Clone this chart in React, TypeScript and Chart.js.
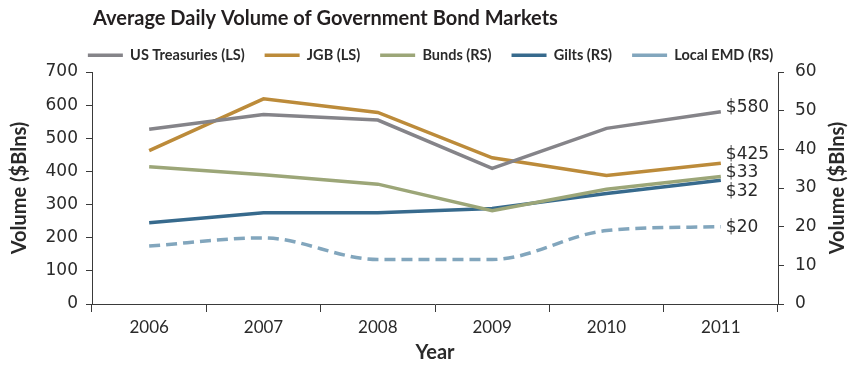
import React, { useEffect, useRef } from "react";
import { Chart, registerables } from "chart.js";

Chart.register(...registerables);

const years = ["2006", "2007", "2008", "2009", "2010", "2011"];
const usTreasuries = [527, 572, 555, 409, 530, 580];
const jgb = [463, 619, 578, 441, 388, 425];
const bunds = [35.5, 33.4, 31.0, 24.1, 29.7, 33];
const gilts = [21.0, 23.6, 23.6, 24.7, 28.6, 32];
const localEmd = [15.0, 17.1, 11.5, 11.5, 19.0, 20];

const titleText = "Average Daily Volume of Government Bond Markets";
const yTitleText = "Volume ($Blns)";
const xTitleText = "Year";

const W = 861;
const H = 365;
const TEXT = "#2a2a2a";
const AXIS = "#3a3a3a";
const tickFont = { family: "'DejaVu Sans', sans-serif", size: 17 };
const axisTitleFont = { family: "Lato, sans-serif", size: 20, weight: "bold" };

export default function App() {
  const ref = useRef<HTMLCanvasElement | null>(null);

  useEffect(() => {
    document.body.style.margin = "0";
    const canvas = ref.current;
    if (!canvas) return;

    const overlay = {
      id: "overlay",
      afterDraw(chart: any) {
        const ctx = chart.ctx;
        const area = chart.chartArea;
        ctx.save();
        // Title
        ctx.fillStyle = "#231f20";
        ctx.font = "bold 20px Lato, sans-serif";
        ctx.textAlign = "left";
        ctx.textBaseline = "alphabetic";
        ctx.fillText(titleText, 93, 25);
        // Right axis title (reads bottom to top)
        ctx.save();
        ctx.translate(838, (area.top + area.bottom) / 2);
        ctx.rotate(-Math.PI / 2);
        ctx.textAlign = "center";
        ctx.textBaseline = "middle";
        ctx.fillStyle = TEXT;
        ctx.font = "bold 20px Lato, sans-serif";
        ctx.fillText(yTitleText, 0, 0);
        ctx.restore();
        // End labels
        ctx.font = "17px 'DejaVu Sans', sans-serif";
        ctx.fillStyle = TEXT;
        ctx.textAlign = "left";
        ctx.textBaseline = "middle";
        chart.data.datasets.forEach((ds: any, i: number) => {
          const meta = chart.getDatasetMeta(i);
          const pt = meta.data[meta.data.length - 1];
          if (!pt) return;
          const v = ds.data[ds.data.length - 1];
          ctx.fillText("$" + v, pt.x + 5, pt.y + (ds.labelOffset || 0));
        });
        ctx.restore();
      },
    };

    const chart = new Chart(canvas, {
      type: "line",
      data: {
        labels: years,
        datasets: [
          {
            label: "US Treasuries (LS)",
            data: usTreasuries,
            yAxisID: "yL",
            borderColor: "#858489",
            backgroundColor: "#858489",
            borderWidth: 3.5,
            pointRadius: 0,
            labelOffset: -4,
          } as any,
          {
            label: "JGB (LS)",
            data: jgb,
            yAxisID: "yL",
            borderColor: "#BC8B3A",
            backgroundColor: "#BC8B3A",
            borderWidth: 3.5,
            pointRadius: 0,
            labelOffset: -9,
          } as any,
          {
            label: "Bunds (RS)",
            data: bunds,
            yAxisID: "yR",
            borderColor: "#9CA678",
            backgroundColor: "#9CA678",
            borderWidth: 3.5,
            pointRadius: 0,
            labelOffset: -4,
          } as any,
          {
            label: "Gilts (RS)",
            data: gilts,
            yAxisID: "yR",
            borderColor: "#376A8D",
            backgroundColor: "#376A8D",
            borderWidth: 3.5,
            pointRadius: 0,
            labelOffset: 11,
          } as any,
          {
            label: "Local EMD (RS)",
            data: localEmd,
            yAxisID: "yR",
            borderColor: "#82A6BD",
            backgroundColor: "#82A6BD",
            borderWidth: 3.5,
            borderDash: [11, 6],
            cubicInterpolationMode: "monotone",
            pointRadius: 0,
            labelOffset: 1,
          } as any,
        ],
      },
      options: {
        responsive: false,
        animation: false,
        devicePixelRatio: 1,
        layout: { padding: { top: 28, left: 0, right: 0, bottom: 0 } },
        plugins: {
          title: { display: false },
          tooltip: { enabled: false },
          legend: {
            display: true,
            position: "top",
            maxHeight: 44,
            labels: {
              usePointStyle: true,
              pointStyle: "line",
              pointStyleWidth: 35,
              boxHeight: 14,
              padding: 20,
              color: TEXT,
              font: { family: "Lato, sans-serif", size: 14.5, weight: "bold" },
            },
          } as any,
        },
        scales: {
          x: {
            type: "category",
            offset: true,
            grid: {
              display: true,
              offset: true,
              drawOnChartArea: false,
              drawTicks: true,
              tickLength: 8,
              color: AXIS,
            },
            border: { display: true, color: AXIS, width: 1 },
            ticks: { color: TEXT, font: { family: "Lato, sans-serif", size: 17 }, padding: 5, maxRotation: 0 },
            title: {
              display: true,
              text: xTitleText,
              color: TEXT,
              font: axisTitleFont,
              padding: { top: 0, bottom: 0 },
            },
            afterFit(scale: any) {
              scale.height = 61;
            },
          },
          yL: {
            type: "linear",
            position: "left",
            min: 0,
            max: 700,
            ticks: { stepSize: 100, color: TEXT, font: tickFont, padding: 8 },
            grid: { display: true, drawOnChartArea: false, drawTicks: true, tickLength: 6, color: AXIS },
            border: { display: true, color: AXIS, width: 1 },
            title: {
              display: true,
              text: yTitleText,
              color: TEXT,
              font: axisTitleFont,
              padding: { top: 8, bottom: 0 },
            },
            afterFit(scale: any) {
              scale.width = 92;
            },
          },
          yR: {
            type: "linear",
            position: "right",
            min: 0,
            max: 60,
            ticks: { stepSize: 10, color: TEXT, font: tickFont, padding: 11 },
            grid: { display: true, drawOnChartArea: false, drawTicks: true, tickLength: 6, color: AXIS },
            border: { display: true, color: AXIS, width: 1 },
            title: { display: false },
            afterFit(scale: any) {
              scale.width = 83;
            },
          },
        },
      } as any,
      plugins: [overlay],
    });

    return () => {
      chart.destroy();
    };
  }, []);

  return (
    <div style={{ width: W, height: H, background: "#fff" }}>
      <canvas ref={ref} width={W} height={H} style={{ display: "block" }} />
    </div>
  );
}
